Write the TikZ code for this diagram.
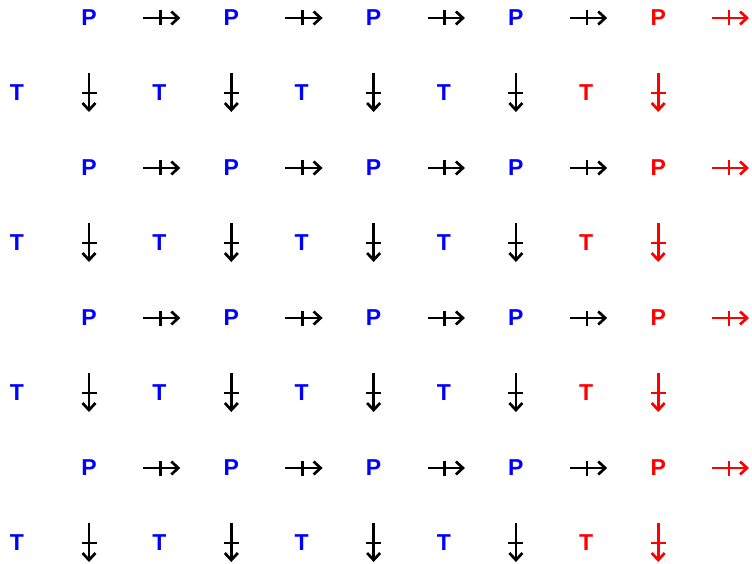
\documentclass[tikz,border=0pt]{standalone}
\usepackage{fontspec}
\setmainfont{Liberation Sans}
\usetikzlibrary{arrows.meta}

\tikzset{
  letter/.style={font=\fontsize{23}{27}\selectfont\bfseries, inner sep=0pt},
  barrow/.style={line width=2.7pt, -{Straight Barb[length=7pt,width=13pt,line width=2.7pt]}},
  tick/.style={midway, sloped, fill, minimum width=2.7pt, minimum height=15pt, inner sep=0pt, outer sep=0pt},
  hconn/.style={barrow, shorten <=54pt, shorten >=51pt},
  vconn/.style={barrow, shorten <=55pt, shorten >=56pt},
}

\begin{document}
\begin{tikzpicture}[x=1pt,y=-1pt]
\useasboundingbox (0,0) rectangle (752,564);

% P and T letters
\foreach \i in {0,...,3} {
  \foreach \j/\c in {0/blue,1/blue,2/blue,3/blue,4/red} {
    \node[letter, text=\c] (p-\i-\j) at ({89+142.3*\j},{18+150*\i}) {P};
    \node[letter, text=\c] (t-\i-\j) at ({17+142.3*\j},{93+150*\i}) {T};
  }
  \coordinate (p-\i-5) at (800,{18+150*\i});
}
\foreach \j in {0,...,4}
  \coordinate (p-4-\j) at ({89+142.3*\j},618);

% arrows
\foreach \i [evaluate=\i as \n using int(\i+1)] in {0,...,3} {
  \foreach \j/\c [evaluate=\j as \m using int(\j+1)] in {0/black,1/black,2/black,3/black,4/red} {
    \draw[hconn, \c] (p-\i-\j.center) -- node[tick] {} (p-\i-\m.center);
    \draw[vconn, \c] (p-\i-\j.center) -- node[tick] {} (p-\n-\j.center);
  }
}

\end{tikzpicture}
\end{document}
